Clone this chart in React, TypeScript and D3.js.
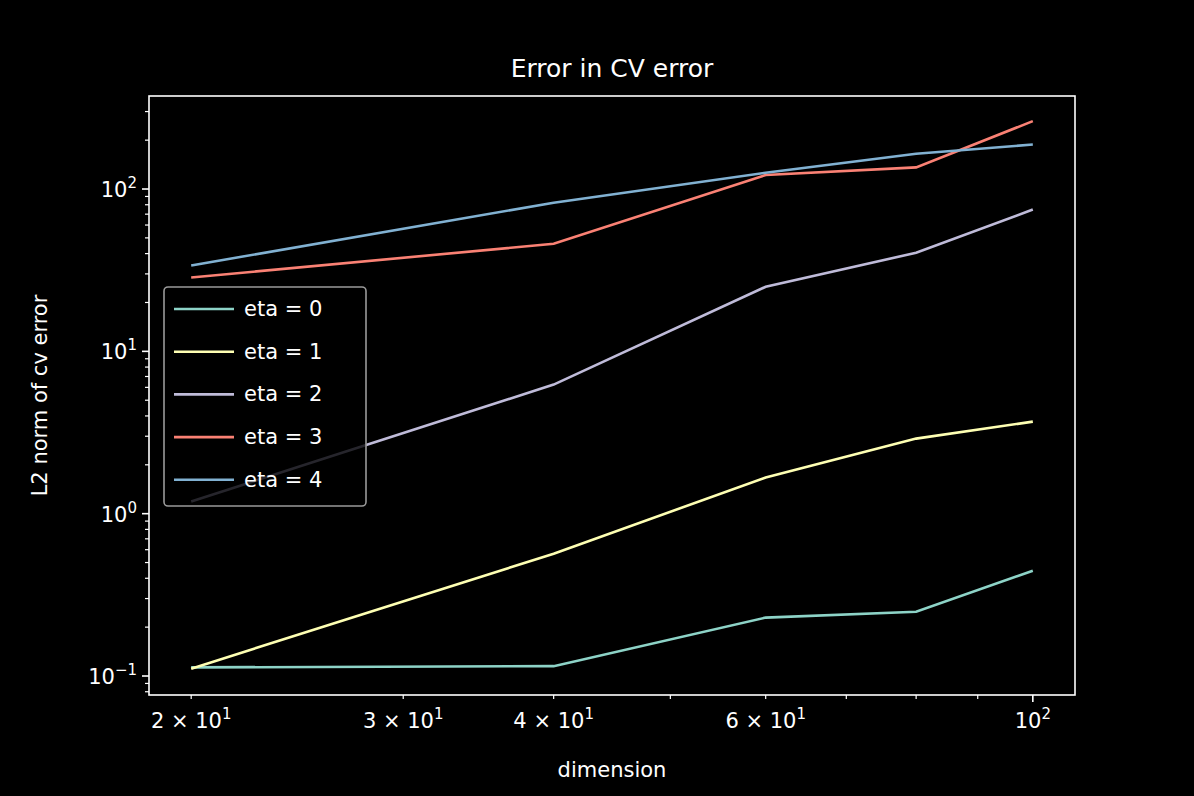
import * as d3 from "d3";

const dims = [20, 40, 60, 80, 100];
const seriesNames = ["eta = 0", "eta = 1", "eta = 2", "eta = 3", "eta = 4"];
const eta0 = [0.113, 0.115, 0.229, 0.249, 0.445];
const eta1 = [0.111, 0.567, 1.67, 2.9, 3.69];
const eta2 = [1.19, 6.24, 25, 40.5, 74.7];
const eta3 = [28.5, 46, 122, 136, 262];
const eta4 = [33.8, 82.4, 126, 165, 188];
const seriesValues = [eta0, eta1, eta2, eta3, eta4];
const colors = ["#8dd3c7", "#feffb3", "#bfbbd9", "#fa8174", "#81b1d2"];

const xLabelled = [
	{ v: 20, m: "2" },
	{ v: 30, m: "3" },
	{ v: 40, m: "4" },
	{ v: 60, m: "6" },
];
const xMinorOnly = [50, 70, 80, 90];
const yMajor = [-1, 0, 1, 2];

export default function App() {
	const W = 1194;
	const H = 796;
	const left = 149, right = 1075, top = 96, bottom = 695;
	const font = "DejaVu Sans, sans-serif";

	const x = d3.scaleLog().domain([18.45, 108.4]).range([left, right]);
	const y = d3.scaleLog().domain([Math.pow(10, -1.117), Math.pow(10, 2.573)]).range([bottom, top]);

	const line = d3
		.line<number>()
		.x((_, i) => x(dims[i]))
		.y((d) => y(d));

	const yMinor: number[] = [];
	for (let e = -2; e <= 2; e++)
		for (let k = 2; k <= 9; k++) {
			const v = k * Math.pow(10, e);
			if (y(v) >= top && y(v) <= bottom) yMinor.push(v);
		}

	return (
		<svg width={W} height={H} style={{ position: "absolute", left: 0, top: 0, background: "#000" }}>
			<rect x={0} y={0} width={W} height={H} fill="#000" />
			<g fill="none" strokeWidth={2.6}>
				{seriesValues.map((s, i) => (
					<path key={i} d={line(s) ?? ""} stroke={colors[i]} />
				))}
			</g>
			<rect x={left} y={top} width={right - left} height={bottom - top} fill="none" stroke="#fff" strokeWidth={1.6} />
			{xLabelled.map((t) => (
				<g key={t.v}>
					<line x1={x(t.v)} x2={x(t.v)} y1={bottom} y2={bottom + 4} stroke="#fff" strokeWidth={1.2} />
					<text x={x(t.v)} y={bottom + 33} fill="#fff" fontSize={21} fontFamily={font} textAnchor="middle">
						{t.m} × 10<tspan dy={-9} fontSize={15}>1</tspan>
					</text>
				</g>
			))}
			{xMinorOnly.map((v) => (
				<line key={v} x1={x(v)} x2={x(v)} y1={bottom} y2={bottom + 4} stroke="#fff" strokeWidth={1.2} />
			))}
			<line x1={x(100)} x2={x(100)} y1={bottom} y2={bottom + 7} stroke="#fff" strokeWidth={1.6} />
			<text x={x(100)} y={bottom + 33} fill="#fff" fontSize={21} fontFamily={font} textAnchor="middle">
				10<tspan dy={-9} fontSize={15}>2</tspan>
			</text>
			{yMinor.map((v) => (
				<line key={v} x1={left - 4} x2={left} y1={y(v)} y2={y(v)} stroke="#fff" strokeWidth={1.2} />
			))}
			{yMajor.map((e) => (
				<g key={e}>
					<line x1={left - 7} x2={left} y1={y(Math.pow(10, e))} y2={y(Math.pow(10, e))} stroke="#fff" strokeWidth={1.6} />
					<text x={left - 12} y={y(Math.pow(10, e)) + 8} fill="#fff" fontSize={21} fontFamily={font} textAnchor="end">
						10<tspan dy={-9} fontSize={15}>{e === -1 ? "−1" : e}</tspan>
					</text>
				</g>
			))}
			<text x={612} y={77} fill="#fff" fontSize={25} fontFamily={font} textAnchor="middle">
				Error in CV error
			</text>
			<text x={612} y={777} fill="#fff" fontSize={21} fontFamily={font} textAnchor="middle">
				dimension
			</text>
			<text transform={`translate(47,${(top + bottom) / 2}) rotate(-90)`} fill="#fff" fontSize={21} fontFamily={font} textAnchor="middle">
				L2 norm of cv error
			</text>
			<rect x={164} y={287} width={202} height={219} rx={4} fill="#000" fillOpacity={0.8} stroke="#999" strokeWidth={1.6} />
			{seriesNames.map((n, i) => {
				const ly = 309 + i * 42.7;
				return (
					<g key={n}>
						<line x1={174} x2={234} y1={ly} y2={ly} stroke={colors[i]} strokeWidth={2.6} />
						<text x={244} y={ly + 7} fill="#fff" fontSize={21} fontFamily={font}>
							{n}
						</text>
					</g>
				);
			})}
		</svg>
	);
}
